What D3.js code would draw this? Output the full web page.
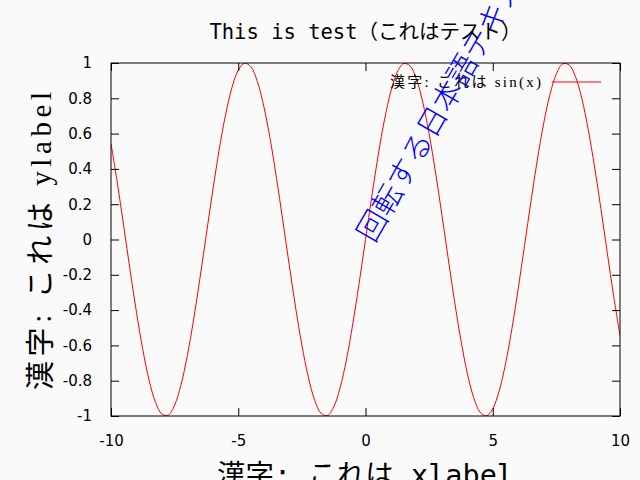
<!DOCTYPE html>
<html>
<head>
<meta charset="utf-8">
<script src="https://cdn.jsdelivr.net/npm/d3@7"></script>
<style>
  body { margin: 0; background: #fafafa; }
  svg { display: block; }
</style>
</head>
<body>
<svg id="chart" width="640" height="480"></svg>
<script>
var width = 640;
var height = 480;

// sin(x), x = -10 .. 10 step 0.25
var xValues = d3.range(-10, 10.001, 0.25);
var yValues = [
  0.544, 0.320, 0.075, -0.174, -0.412, -0.624, -0.799, -0.923, -0.989, -0.995,
  -0.938, -0.823, -0.657, -0.450, -0.215, 0.033, 0.279, 0.508, 0.706, 0.859,
  0.959, 0.999, 0.978, 0.895, 0.757, 0.572, 0.351, 0.108, -0.141, -0.382,
  -0.598, -0.778, -0.909, -0.984, -0.997, -0.949, -0.841, -0.682, -0.479, -0.247,
  0.000,
  0.247, 0.479, 0.682, 0.841, 0.949, 0.997, 0.984, 0.909, 0.778, 0.598,
  0.382, 0.141, -0.108, -0.351, -0.572, -0.757, -0.895, -0.978, -0.999, -0.959,
  -0.859, -0.706, -0.508, -0.279, -0.033, 0.215, 0.450, 0.657, 0.823, 0.938,
  0.995, 0.989, 0.923, 0.799, 0.624, 0.412, 0.174, -0.075, -0.320, -0.544
];
var xTicks = [-10, -5, 0, 5, 10];
var yTicks = [-1, -0.8, -0.6, -0.4, -0.2, 0, 0.2, 0.4, 0.6, 0.8, 1];

var titleText = "This is test（これはテスト）";
var xLabelText = "漢字: これは xlabel";
var yLabelText = "漢字: これは ylabel";
var legendText = "漢字: これは sin(x)";
var rotatedText = "回転する日本語テキスト";

var padding = { t: 63, r: 20, b: 64, l: 111 };
var plotW = width - padding.l - padding.r;
var plotH = height - padding.t - padding.b;
var tickLen = 8;

var monoFont = "'DejaVu Sans Mono', 'Noto Sans CJK JP', monospace";
var serifFont = "'Liberation Serif', 'DejaVu Serif', 'Noto Sans CJK JP', serif";

// gnuplot style labels: plain hyphen minus
function fmt(d) {
  return String(+d.toFixed(1));
}

var svg = d3.select("#chart");

var xScale = d3.scaleLinear().domain([-10, 10]).range([0, plotW]);
var yScale = d3.scaleLinear().domain([-1, 1]).range([plotH, 0]);

var g = svg.append("g")
    .attr("transform", `translate(${padding.l},${padding.t})`);

// clip for the curve
g.append("clipPath").attr("id", "clip")
  .append("rect").attr("width", plotW).attr("height", plotH);

// curve
var points = xValues.map((x, i) => [x, yValues[i]]);
var line = d3.line()
    .x(d => xScale(d[0]))
    .y(d => yScale(d[1]))
    .curve(d3.curveCatmullRom);

g.append("path")
    .datum(points)
    .attr("clip-path", "url(#clip)")
    .attr("fill", "none")
    .attr("stroke", "#ff0000")
    .attr("stroke-width", 1)
    .attr("d", line);

// axes: bottom & left with labels, top & right mirrored ticks
function styleAxis(sel) {
  sel.select(".domain").remove();
  sel.selectAll(".tick line").attr("stroke", "#000").attr("stroke-width", 1);
  sel.selectAll("text")
    .attr("fill", "#000")
    .style("font-family", "'DejaVu Sans', Verdana, sans-serif")
    .style("font-size", "15px");
}

g.append("g")
    .attr("transform", `translate(0,${plotH})`)
    .call(d3.axisBottom(xScale).tickValues(xTicks).tickSize(-tickLen).tickPadding(19)
      .tickFormat(fmt))
    .call(styleAxis);

g.append("g")
    .call(d3.axisTop(xScale).tickValues(xTicks).tickSize(-tickLen).tickFormat(""))
    .call(styleAxis);

g.append("g")
    .call(d3.axisLeft(yScale).tickValues(yTicks).tickSize(-tickLen).tickPadding(19)
      .tickFormat(fmt))
    .call(styleAxis);

g.append("g")
    .attr("transform", `translate(${plotW},0)`)
    .call(d3.axisRight(yScale).tickValues(yTicks).tickSize(-tickLen).tickFormat(""))
    .call(styleAxis);

// frame
g.append("rect")
    .attr("x", 0).attr("y", 0)
    .attr("width", plotW).attr("height", plotH)
    .attr("fill", "none")
    .attr("stroke", "#000")
    .attr("stroke-width", 1);

// legend
g.append("text")
    .attr("x", 279)
    .attr("y", 24)
    .attr("textLength", 151)
    .attr("lengthAdjust", "spacing")
    .style("font-family", serifFont)
    .style("font-size", "15px")
    .text(legendText);

g.append("line")
    .attr("x1", 441).attr("x2", 490)
    .attr("y1", 19).attr("y2", 19)
    .attr("stroke", "#ff0000")
    .attr("stroke-width", 1);

// rotated label
svg.append("text")
    .attr("transform", "translate(374,244) rotate(-60)")
    .attr("fill", "#0000ff")
    .style("font-family", serifFont)
    .style("font-size", "30px")
    .style("font-weight", "300")
    .text(rotatedText);

// title
svg.append("text")
    .attr("x", padding.l + plotW / 2)
    .attr("y", 39)
    .attr("text-anchor", "middle")
    .style("font-family", monoFont)
    .style("font-size", "20.5px")
    .text(titleText);

// x label
svg.append("text")
    .attr("x", padding.l + plotW / 2)
    .attr("y", 485)
    .attr("text-anchor", "middle")
    .style("font-family", monoFont)
    .style("font-size", "28.5px")
    .text(xLabelText);

// y label
svg.append("text")
    .attr("transform", `translate(51,${390}) rotate(-90)`)
    .attr("textLength", 298)
    .attr("lengthAdjust", "spacing")
    .style("font-family", serifFont)
    .style("font-size", "29px")
    .text(yLabelText);
</script>
</body>
</html>
